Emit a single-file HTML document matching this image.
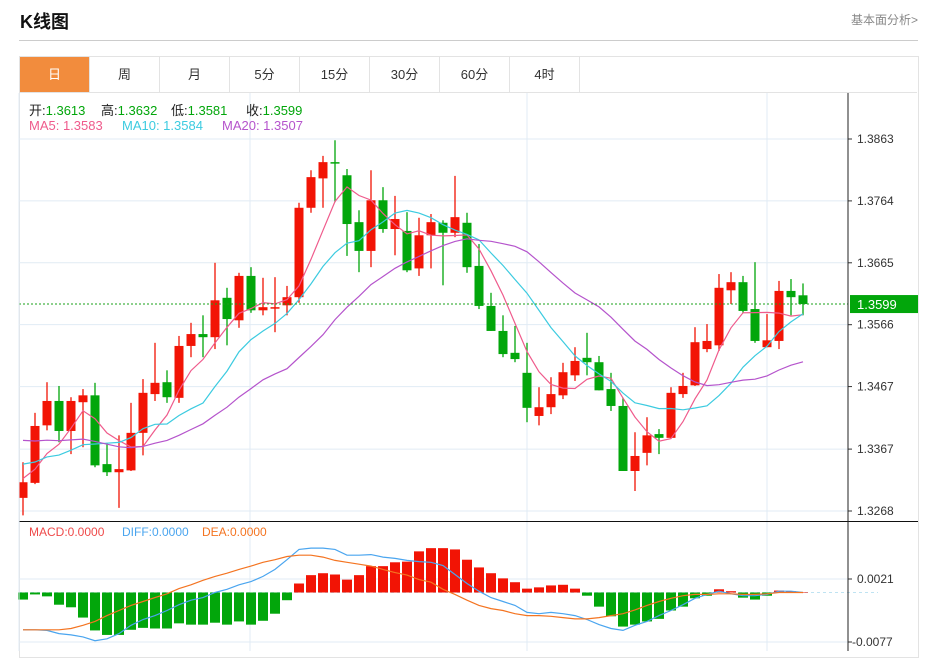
<!DOCTYPE html>
<html><head><meta charset="utf-8"><style>
body{margin:0;width:931px;height:651px;overflow:hidden;background:#fff;font-family:"Liberation Sans","Noto Sans CJK SC",sans-serif;}
.title{position:absolute;left:20px;top:8px;font-size:18px;font-weight:bold;color:#111;}
.more{position:absolute;right:13px;top:11px;font-size:12px;color:#888;}
.hr{position:absolute;left:19px;top:40px;width:899px;height:1px;background:#ccc;}
.box{position:absolute;left:19px;top:56px;width:898px;height:600px;border:1px solid #e3e3e3;}
.tabs{position:absolute;left:20px;top:57px;height:35px;width:897px;border-bottom:1px solid #e3e3e3;}
.tab{position:absolute;top:0;width:70px;height:35px;line-height:35px;text-align:center;font-size:13px;color:#333;border-right:1px solid #e3e3e3;box-sizing:border-box;}
.tab.on{background:#f28c3d;color:#fff;}
svg{position:absolute;left:0;top:0;}
</style></head><body>
<div class="title">K线图</div>
<div class="more">基本面分析&gt;</div>
<div class="hr"></div>
<div class="box"></div>
<div class="tabs">
<div class="tab on" style="left:0">日</div>
<div class="tab" style="left:70px">周</div>
<div class="tab" style="left:140px">月</div>
<div class="tab" style="left:210px">5分</div>
<div class="tab" style="left:280px">15分</div>
<div class="tab" style="left:350px">30分</div>
<div class="tab" style="left:420px">60分</div>
<div class="tab" style="left:490px">4时</div>
</div>
<svg id="chart" width="931" height="651"></svg>
<script>
const opens=[1.3289,1.3313,1.3405,1.3444,1.3396,1.3442,1.3453,1.3343,1.3330,1.3333,1.3393,1.3455,1.3474,1.3449,1.3532,1.3551,1.3546,1.3609,1.3573,1.3644,1.3589,1.3593,1.3597,1.3610,1.3753,1.3800,1.3826,1.3805,1.3730,1.3684,1.3765,1.3719,1.3716,1.3656,1.3709,1.3729,1.3713,1.3729,1.3660,1.3596,1.3556,1.3521,1.3489,1.3420,1.3434,1.3453,1.3485,1.3513,1.3506,1.3463,1.3436,1.3332,1.3361,1.3391,1.3385,1.3455,1.3469,1.3527,1.3533,1.3621,1.3634,1.3591,1.3530,1.3540,1.3620,1.3613];
const highs=[1.3346,1.3425,1.3474,1.3468,1.3450,1.3463,1.3473,1.3377,1.3389,1.3441,1.3479,1.3537,1.3493,1.3548,1.3569,1.3581,1.3665,1.3625,1.3649,1.3658,1.3641,1.3642,1.3628,1.3761,1.3813,1.3836,1.3861,1.3815,1.3749,1.3813,1.3786,1.3772,1.3746,1.3737,1.3743,1.3733,1.3804,1.3745,1.3695,1.3617,1.3581,1.3564,1.3537,1.3466,1.3482,1.3505,1.3530,1.3553,1.3516,1.3489,1.3449,1.3394,1.3418,1.3399,1.3466,1.3489,1.3562,1.3567,1.3647,1.3650,1.3644,1.3666,1.3583,1.3636,1.3639,1.3632];
const lows=[1.3261,1.3311,1.3397,1.3378,1.3359,1.3370,1.3338,1.3324,1.3273,1.3332,1.3357,1.3444,1.3441,1.3441,1.3514,1.3514,1.3527,1.3533,1.3561,1.3585,1.3581,1.3554,1.3581,1.3601,1.3745,1.3753,1.3762,1.3676,1.3650,1.3658,1.3713,1.3677,1.3650,1.3644,1.3656,1.3629,1.3706,1.3649,1.3591,1.3556,1.3514,1.3506,1.3410,1.3405,1.3423,1.3447,1.3476,1.3485,1.3461,1.3428,1.3332,1.3300,1.3341,1.3359,1.3385,1.3449,1.3468,1.3522,1.3524,1.3599,1.3585,1.3537,1.3530,1.3527,1.3581,1.3581];
const closes=[1.3314,1.3404,1.3444,1.3396,1.3444,1.3453,1.3341,1.3330,1.3335,1.3393,1.3457,1.3473,1.3450,1.3532,1.3551,1.3546,1.3605,1.3575,1.3644,1.3589,1.3594,1.3594,1.3610,1.3753,1.3802,1.3826,1.3824,1.3727,1.3684,1.3765,1.3719,1.3735,1.3653,1.3709,1.3730,1.3713,1.3738,1.3658,1.3596,1.3556,1.3519,1.3511,1.3433,1.3434,1.3455,1.3490,1.3508,1.3506,1.3461,1.3436,1.3332,1.3356,1.3389,1.3385,1.3457,1.3468,1.3538,1.3540,1.3625,1.3634,1.3588,1.3540,1.3541,1.3620,1.3610,1.3599];
const priorCloses=[1.3425,1.3418,1.3412,1.3420,1.3425,1.3415,1.3420,1.3418,1.3422,1.3415,1.3370,1.3362,1.3368,1.3365,1.3365,1.3330,1.3318,1.3322,1.3316];
const priceTicks=[1.3863,1.3764,1.3665,1.3566,1.3467,1.3367,1.3268];
// MACD values in units of 1e-4
const macdBars=[-11,-3,-6,-19,-23,-39,-59,-66,-66,-58,-55,-56,-56,-48,-50,-50,-47,-50,-45,-50,-44,-33,-12,14,27,30,28,20,27,41,41,47,48,64,69,69,67,51,39,30,22,16,6,8,11,12,6,-5,-22,-37,-53,-50,-45,-41,-28,-22,-9,-5,5,2,-8,-11,-5,3,2,0];
const diffLine=[-58,-58,-59,-64,-66,-69,-75,-72,-64,-51,-42,-36,-28,-19,-12,-8,0,5,12,17,25,36,51,67,69,69,67,58,58,59,55,53,50,48,47,42,28,14,2,-8,-14,-20,-31,-33,-31,-33,-36,-42,-50,-56,-59,-51,-45,-36,-28,-19,-9,-3,2,-2,-5,-5,-3,2,2,0];
const deaLine=[-58,-58,-58,-58,-56,-51,-45,-36,-28,-20,-14,-8,-2,6,12,19,25,30,36,41,47,51,56,58,58,55,50,47,44,41,36,31,27,20,16,5,-3,-12,-20,-25,-28,-33,-36,-36,-37,-39,-41,-41,-39,-36,-33,-27,-20,-14,-9,-5,-3,-3,-2,-2,-3,-3,-2,0,0,0];
const macdTicks=[21,-77];

const NS='http://www.w3.org/2000/svg';
const svg=document.getElementById('chart');
const L=19,R=848,PT=139,PB=511,MZ=592.5,MPX=(MZ-579)/21;
const x=i=>23+i*12;
const y=v=>PT+(priceTicks[0]-v)/(priceTicks[0]-priceTicks[priceTicks.length-1])*(PB-PT);
const my=v=>MZ-v*MPX;
function el(t,a,p){const e=document.createElementNS(NS,t);for(const k in a)e.setAttribute(k,a[k]);(p||svg).appendChild(e);return e;}
function txt(s,a){const e=el('text',a);e.textContent=s;return e;}

[250,527,767].forEach(gx=>{const g=el('line',{x1:gx,x2:gx,y1:93,y2:651,stroke:'#e1ebf4'});

});
priceTicks.forEach(t=>{const g=el('line',{x1:L,x2:R,y1:y(t),y2:y(t),stroke:'#e1ebf4'});


el('line',{x1:R,x2:R+4,y1:y(t),y2:y(t),stroke:'#333'});
const lb=txt(t.toFixed(4),{x:857,y:y(t)+4,'font-size':12,fill:'#333'});

});
macdTicks.forEach(t=>{const g=el('line',{x1:L,x2:R,y1:my(t),y2:my(t),stroke:'#e1ebf4'});


el('line',{x1:R,x2:R+4,y1:my(t),y2:my(t),stroke:'#333'});
const lb=txt((t/10000).toFixed(4),{x:t<0?852:857,y:my(t)+4,'font-size':12,fill:'#333'});

});

for(let i=0;i<closes.length;i++){
 const up=closes[i]>=opens[i];const c=up?'#f21405':'#02a60b';
 const g=el('g',{});
 
 
 el('line',{x1:x(i),x2:x(i),y1:y(highs[i]),y2:y(lows[i]),stroke:c,'stroke-width':1.3},g);
 const t=y(Math.max(opens[i],closes[i])),b=y(Math.min(opens[i],closes[i]));
 el('rect',{x:x(i)-4.5,y:t,width:9,height:Math.max(1.5,b-t),fill:c},g);
}
const all=priorCloses.concat(closes);
function ma(n){const r=[];for(let i=0;i<closes.length;i++){let s=0;const j=i+priorCloses.length;for(let k=j-n+1;k<=j;k++)s+=all[k];r.push(s/n);}return r;}
[[5,'#ef5b8c','ma5-line'],[10,'#3ccbe0','ma10-line'],[20,'#b554cc','ma20-line']].forEach(([n,c,nm])=>{
 const v=ma(n);const p=el('polyline',{points:v.map((m,i)=>x(i)+','+y(m).toFixed(1)).join(' '),fill:'none',stroke:c,'stroke-width':1.2});
 
 });
const lp=closes[closes.length-1];
const dl=el('line',{x1:L,x2:R,y1:y(lp),y2:y(lp),stroke:'#1aa01a','stroke-dasharray':'2,2'});


const lr=el('rect',{x:850,y:y(lp)-9,width:68,height:18,fill:'#02a60b'});


txt(lp.toFixed(4),{x:857,y:y(lp)+5,'font-size':13,fill:'#fff'});

el('line',{x1:L,x2:918,y1:521.5,y2:521.5,stroke:'#111'});
el('line',{x1:L,x2:R+30,y1:MZ,y2:MZ,stroke:'#bfe3f2','stroke-dasharray':'3,3'});
macdBars.forEach((v,i)=>{const r=el('rect',{x:x(i)-5,y:Math.min(my(v),MZ),width:10,height:Math.max(0.5,Math.abs(my(v)-MZ)),fill:v>=0?'#f21405':'#02a60b'});

});
const dfl=el('polyline',{points:diffLine.map((v,i)=>x(i)+','+my(v).toFixed(1)).join(' '),fill:'none',stroke:'#4aa5ef','stroke-width':1.2});


const del=el('polyline',{points:deaLine.map((v,i)=>x(i)+','+my(v).toFixed(1)).join(' '),fill:'none',stroke:'#f47421','stroke-width':1.2});



el('line',{x1:R,x2:R,y1:93,y2:651,stroke:'#222'});
el('line',{x1:L,x2:L,y1:93,y2:651,stroke:'#e1ebf4'});
</script>
<div style="position:absolute;left:29px;top:100px;font-size:13px;color:#222;white-space:nowrap">
<span style="position:absolute;left:0">开:<span style="color:#02a60b">1.3613</span></span>
<span style="position:absolute;left:72px">高:<span style="color:#02a60b">1.3632</span></span>
<span style="position:absolute;left:142px">低:<span style="color:#02a60b">1.3581</span></span>
<span style="position:absolute;left:217px">收:<span style="color:#02a60b">1.3599</span></span>
</div>
<div style="position:absolute;left:29px;top:118px;font-size:13px;white-space:nowrap">
<span style="position:absolute;left:0;color:#ef5b8c">MA5: 1.3583</span>
<span style="position:absolute;left:93px;color:#3ccbe0">MA10: 1.3584</span>
<span style="position:absolute;left:193px;color:#b554cc">MA20: 1.3507</span>
</div>
<div style="position:absolute;left:29px;top:525px;font-size:12px;white-space:nowrap">
<span style="position:absolute;left:0;color:#ef4a4a">MACD:0.0000</span>
<span style="position:absolute;left:93px;color:#4aa5ef">DIFF:0.0000</span>
<span style="position:absolute;left:173px;color:#f47421">DEA:0.0000</span>
</div>
</body></html>
